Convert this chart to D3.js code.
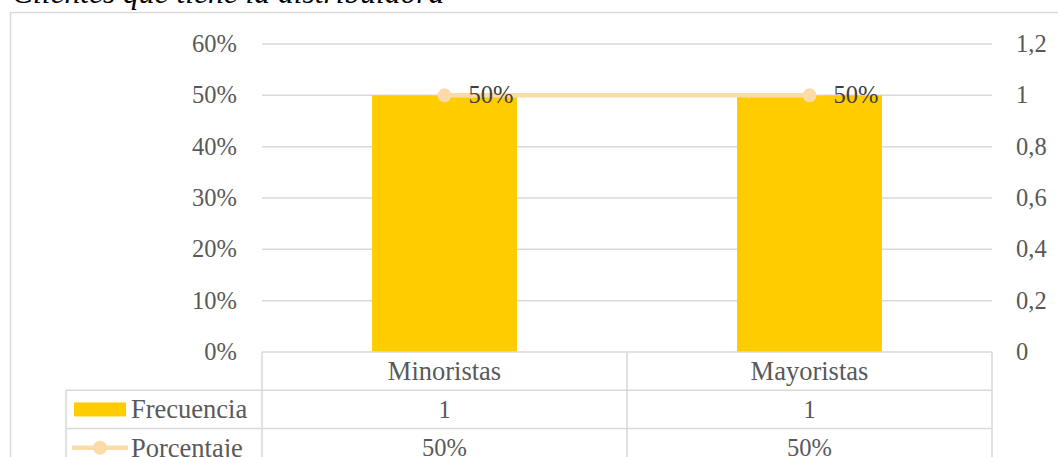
<!DOCTYPE html>
<html>
<head>
<meta charset="utf-8">
<script src="https://cdn.jsdelivr.net/npm/d3@7/dist/d3.min.js"></script>
<style>
  html, body { margin: 0; padding: 0; background: #fff; overflow: hidden; }
  svg { display: block; font-family: "Liberation Serif", "Times New Roman", serif; }
</style>
</head>
<body>
<svg id="chart" width="1058" height="457"></svg>
<script>
// Chart data
const title = "Clientes que tiene la distribuidora";
const categories = ["Minoristas", "Mayoristas"];
const frecuencia = [1, 1];
const porcentaje = [0.5, 0.5];
const leftTicks = [0, 0.1, 0.2, 0.3, 0.4, 0.5, 0.6];
const rightTicks = [0, 0.2, 0.4, 0.6, 0.8, 1, 1.2];
const seriesNames = ["Frecuencia", "Porcentaje"];

const W = 1058, H = 457;
const plot = { left: 262, right: 992, top: 44, bottom: 352 };
const rowH = 38.3;
const legendLeft = 66;

const barColor = "#FFCC00";
const lineColor = "#FDDBA9";
const gridColor = "#D9D9D9";
const textColor = "#595959";
const numSize = 24.5;   // tick labels and values
const wordSize = 26.5;  // category and series names

const svg = d3.select("#chart");

// Outer chart frame
svg.append("rect")
  .attr("x", 10.5).attr("y", 12.5)
  .attr("width", W + 20).attr("height", H + 20)
  .attr("fill", "none").attr("stroke", gridColor).attr("stroke-width", 1.5);

// Title (italic heading above the frame)
svg.append("text")
  .attr("x", 12).attr("y", 3)
  .attr("font-style", "italic")
  .attr("font-size", 31.5)
  .attr("fill", "#000")
  .text(title);

const x = d3.scaleBand().domain(categories).range([plot.left, plot.right]).paddingInner(0).paddingOuter(0);
const yLeft = d3.scaleLinear().domain([0, 0.6]).range([plot.bottom, plot.top]);
const yRight = d3.scaleLinear().domain([0, 1.2]).range([plot.bottom, plot.top]);

const pctFmt = d3.format(".0%");
const commaFmt = v => String(v).replace(".", ",");

// Gridlines
svg.append("g").selectAll("line")
  .data(leftTicks.filter(t => t > 0))
  .join("line")
  .attr("x1", plot.left).attr("x2", plot.right)
  .attr("y1", d => yLeft(d)).attr("y2", d => yLeft(d))
  .attr("stroke", gridColor).attr("stroke-width", 1.5);

// Left axis (percent)
const leftAxis = d3.axisLeft(yLeft).tickValues(leftTicks).tickFormat(pctFmt).tickSize(0).tickPadding(25);
const gl = svg.append("g").attr("transform", `translate(${plot.left},0)`).call(leftAxis);
gl.select(".domain").remove();
gl.selectAll("text").attr("font-size", numSize).attr("fill", textColor)
  .attr("font-family", "Liberation Serif, Times New Roman, serif").attr("dy", "0.3em");

// Right axis (frequency)
const rightAxis = d3.axisRight(yRight).tickValues(rightTicks).tickFormat(commaFmt).tickSize(0).tickPadding(24);
const gr = svg.append("g").attr("transform", `translate(${plot.right},0)`).call(rightAxis);
gr.select(".domain").remove();
gr.selectAll("text").attr("font-size", numSize).attr("fill", textColor)
  .attr("font-family", "Liberation Serif, Times New Roman, serif").attr("dy", "0.3em");

// Bars: Frecuencia on the secondary axis
const barW = x.bandwidth() * 0.397;
svg.append("g").selectAll("rect")
  .data(categories.map((c, i) => ({ c, v: frecuencia[i] })))
  .join("rect")
  .attr("x", d => x(d.c) + x.bandwidth() / 2 - barW / 2)
  .attr("width", barW)
  .attr("y", d => yRight(d.v))
  .attr("height", d => yRight(0) - yRight(d.v))
  .attr("fill", barColor);

// Line: Porcentaje on the primary axis
const pts = categories.map((c, i) => ({ c, v: porcentaje[i] }));
const line = d3.line().x(d => x(d.c) + x.bandwidth() / 2).y(d => yLeft(d.v));
svg.append("path").datum(pts)
  .attr("d", line).attr("fill", "none")
  .attr("stroke", lineColor).attr("stroke-width", 4.5);
svg.append("g").selectAll("circle").data(pts).join("circle")
  .attr("cx", d => x(d.c) + x.bandwidth() / 2)
  .attr("cy", d => yLeft(d.v))
  .attr("r", 7).attr("fill", lineColor);
svg.append("g").selectAll("text").data(pts).join("text")
  .attr("x", d => x(d.c) + x.bandwidth() / 2 + 24)
  .attr("y", d => yLeft(d.v))
  .attr("dy", "0.32em")
  .attr("font-size", numSize).attr("fill", "#404040")
  .text(d => pctFmt(d.v));

// Data table below the plot
const tbl = svg.append("g").attr("stroke", gridColor).attr("stroke-width", 1.5).attr("fill", "none");
const rowsY = [plot.bottom, plot.bottom + rowH, plot.bottom + 2 * rowH, plot.bottom + 3 * rowH];
tbl.append("line").attr("x1", plot.left).attr("x2", plot.right).attr("y1", rowsY[0]).attr("y2", rowsY[0]);
[rowsY[1], rowsY[2], rowsY[3]].forEach(yy =>
  tbl.append("line").attr("x1", legendLeft).attr("x2", plot.right).attr("y1", yy).attr("y2", yy));
tbl.append("line").attr("x1", legendLeft).attr("x2", legendLeft).attr("y1", rowsY[1]).attr("y2", rowsY[3]);
categories.forEach(c =>
  tbl.append("line").attr("x1", x(c)).attr("x2", x(c)).attr("y1", rowsY[0]).attr("y2", rowsY[3]));
tbl.append("line").attr("x1", plot.right).attr("x2", plot.right).attr("y1", rowsY[0]).attr("y2", rowsY[3]);

const cellText = (tx, ty, t, size) => svg.append("text")
  .attr("x", tx).attr("y", ty).attr("dy", "0.34em")
  .attr("text-anchor", "middle").attr("font-size", size).attr("fill", textColor).text(t);

categories.forEach((c, i) => {
  const cx = x(c) + x.bandwidth() / 2;
  cellText(cx, rowsY[0] + rowH / 2, c, wordSize);
  cellText(cx, rowsY[1] + rowH / 2, String(frecuencia[i]), numSize);
  cellText(cx, rowsY[2] + rowH / 2, pctFmt(porcentaje[i]), numSize);
});

// Legend keys inside the table
const r1 = rowsY[1] + rowH / 2, r2 = rowsY[2] + rowH / 2;
svg.append("rect").attr("x", 74).attr("y", r1 - 7).attr("width", 52).attr("height", 14).attr("fill", barColor);
svg.append("line").attr("x1", 72).attr("x2", 128).attr("y1", r2).attr("y2", r2)
  .attr("stroke", lineColor).attr("stroke-width", 4.5);
svg.append("circle").attr("cx", 100).attr("cy", r2).attr("r", 7).attr("fill", lineColor);
seriesNames.forEach((n, i) =>
  svg.append("text").attr("x", 131).attr("y", i === 0 ? r1 : r2).attr("dy", "0.34em")
    .attr("font-size", wordSize).attr("fill", textColor).text(n));
</script>
</body>
</html>
